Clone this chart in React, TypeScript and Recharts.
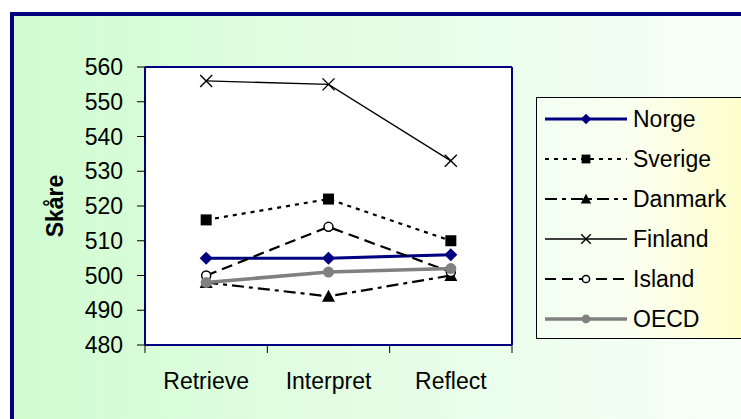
import { LineChart, Line, XAxis, YAxis, Legend, CartesianGrid } from "recharts";

const tasks = ["Retrieve", "Interpret", "Reflect"];
const norge = [505, 505, 506];
const sverige = [516, 522, 510];
const danmark = [498, 494, 500];
const finland = [556, 555, 533];
const island = [500, 514, 501];
const oecd = [498, 501, 502];
const yTicks = [480, 490, 500, 510, 520, 530, 540, 550, 560];

type Shape = "diamond" | "square" | "triangle" | "cross" | "open" | "circle";

const series: {
  name: string;
  values: number[];
  color: string;
  width: number;
  dash?: string;
  shape: Shape;
}[] = [
  { name: "Norge", values: norge, color: "#000080", width: 3, shape: "diamond" },
  { name: "Sverige", values: sverige, color: "#000", width: 2.2, dash: "4 5", shape: "square" },
  { name: "Danmark", values: danmark, color: "#000", width: 2.2, dash: "12 5 4 5", shape: "triangle" },
  { name: "Finland", values: finland, color: "#000", width: 1.3, shape: "cross" },
  { name: "Island", values: island, color: "#000", width: 2.2, dash: "11 6", shape: "open" },
  { name: "OECD", values: oecd, color: "#808080", width: 3.5, shape: "circle" },
];

const data = tasks.map((task, i) => {
  const row: Record<string, string | number> = { task };
  series.forEach((s) => (row[s.name] = s.values[i]));
  return row;
});

const W = 741;
const H = 419;
// the 1px top/right axes only draw the frame of the plot
const MARGIN = { top: 66, right: 228, bottom: 24, left: 85 };
const Y_AXIS_W = 60;
const X_AXIS_H = 50;
const PLOT_W = W - MARGIN.left - MARGIN.right - Y_AXIS_W - 1;
const HALF_BAND = PLOT_W / tasks.length / 2;
const FONT = "'Liberation Sans', Arial, sans-serif";
const NAVY = "#000080";

function Marker({ shape, cx, cy, color, s = 1 }: { shape: Shape; cx: number; cy: number; color: string; s?: number }) {
  switch (shape) {
    case "diamond":
      return <polygon points={`${cx},${cy - 6.5 * s} ${cx + 6.5 * s},${cy} ${cx},${cy + 6.5 * s} ${cx - 6.5 * s},${cy}`} fill={color} />;
    case "square":
      return <rect x={cx - 5.5 * s} y={cy - 5.5 * s} width={11 * s} height={11 * s} fill={color} />;
    case "triangle":
      return <polygon points={`${cx},${cy - 6.5 * s} ${cx + 6.5 * s},${cy + 5.5 * s} ${cx - 6.5 * s},${cy + 5.5 * s}`} fill={color} />;
    case "cross":
      return (
        <g stroke={color} strokeWidth={1.4}>
          <line x1={cx - 6 * s} y1={cy - 6 * s} x2={cx + 6 * s} y2={cy + 6 * s} />
          <line x1={cx - 6 * s} y1={cy + 6 * s} x2={cx + 6 * s} y2={cy - 6 * s} />
        </g>
      );
    case "open":
      return <circle cx={cx} cy={cy} r={4.5 * s} fill="#fff" stroke={color} strokeWidth={1.5} />;
    default:
      return <circle cx={cx} cy={cy} r={5.5 * s} fill={color} />;
  }
}

// category tick: label at the point, tick marks on the band edges
function XTick(props: any) {
  const { x, y, payload, index } = props;
  return (
    <g>
      <line x1={x - HALF_BAND} y1={y} x2={x - HALF_BAND} y2={y + 8} stroke="#000" />
      {index === tasks.length - 1 && <line x1={x + HALF_BAND} y1={y} x2={x + HALF_BAND} y2={y + 8} stroke="#000" />}
      <text x={x} y={y + 44} textAnchor="middle" fontFamily={FONT} fontSize={23} fill="#000">
        {payload.value}
      </text>
    </g>
  );
}

function AxisTitle({ viewBox }: any) {
  const cx = viewBox.x - 30;
  const cy = viewBox.y + viewBox.height / 2;
  return (
    <text
      x={cx}
      y={cy}
      transform={`rotate(-90 ${cx} ${cy})`}
      textAnchor="middle"
      dominantBaseline="central"
      fontFamily={FONT}
      fontSize={23}
      fontWeight="bold"
      fill="#000"
    >
      Skåre
    </text>
  );
}

function LegendBox() {
  return (
    <div
      style={{
        width: 215,
        height: 239,
        paddingTop: 1,
        border: "1px solid #000",
        background: "linear-gradient(to right, #f2fff2, #fbfff0 45%, #ffffc8)",
        fontFamily: FONT,
        fontSize: 23,
        color: "#000",
      }}
    >
      {series.map((s) => (
        <div key={s.name} style={{ display: "flex", alignItems: "center", height: 40 }}>
          <svg width={96} height={40} style={{ flex: "none" }}>
            <line x1={8} y1={20} x2={90} y2={20} stroke={s.color} strokeWidth={s.width} strokeDasharray={s.dash} />
            <Marker shape={s.shape} cx={49} cy={20} color={s.color} s={0.8} />
          </svg>
          <span style={{ lineHeight: "40px" }}>{s.name}</span>
        </div>
      ))}
    </div>
  );
}

export default function App() {
  return (
    <div style={{ position: "fixed", left: 0, top: 0, width: W, height: H, overflow: "hidden", background: "#fff" }}>
      <div
        style={{
          position: "absolute",
          left: 10,
          top: 12,
          width: 760,
          height: 440,
          borderLeft: `4px solid ${NAVY}`,
          borderTop: `4px solid ${NAVY}`,
          background: "linear-gradient(to right, #d0fcd0 0%, #e4fde4 45%, #fafffa 100%)",
        }}
      />
      <div style={{ position: "absolute", left: 0, top: 0 }}>
        <LineChart width={W} height={H} data={data} margin={MARGIN}>
          <CartesianGrid horizontal={false} vertical={false} fill="#fff" fillOpacity={1} />
          <XAxis
            dataKey="task"
            height={X_AXIS_H}
            padding={{ left: HALF_BAND, right: HALF_BAND }}
            axisLine={{ stroke: NAVY, strokeWidth: 2 }}
            tickLine={false}
            tickSize={0}
            tickMargin={0}
            tick={<XTick />}
            interval={0}
          />
          <XAxis
            xAxisId="top"
            orientation="top"
            dataKey="task"
            height={1}
            axisLine={{ stroke: NAVY, strokeWidth: 2 }}
            tick={false}
            tickLine={false}
          />
          <YAxis
            width={Y_AXIS_W}
            domain={[480, 560]}
            ticks={yTicks}
            interval={0}
            axisLine={{ stroke: NAVY, strokeWidth: 2 }}
            tickLine={{ stroke: "#000" }}
            tickSize={8}
            tickMargin={14}
            tick={{ fill: "#000", fontSize: 23, fontFamily: FONT }}
            label={AxisTitle}
          />
          <YAxis
            yAxisId="right"
            orientation="right"
            width={1}
            domain={[480, 560]}
            axisLine={{ stroke: NAVY, strokeWidth: 2 }}
            tick={false}
            tickLine={false}
          />
          <Legend
            layout="vertical"
            align="center"
            verticalAlign="middle"
            wrapperStyle={{ left: 536, top: 97, width: 217, height: 241 }}
            content={<LegendBox />}
          />
          {series.map((s) => (
            <Line
              key={s.name}
              type="linear"
              dataKey={s.name}
              stroke={s.color}
              strokeWidth={s.width}
              strokeDasharray={s.dash}
              activeDot={false}
              isAnimationActive={false}
              dot={(p: any) => (
                <g key={`${s.name}-${p.index}`}>
                  <Marker shape={s.shape} cx={p.cx} cy={p.cy} color={s.color} />
                </g>
              )}
            />
          ))}
        </LineChart>
      </div>
    </div>
  );
}
